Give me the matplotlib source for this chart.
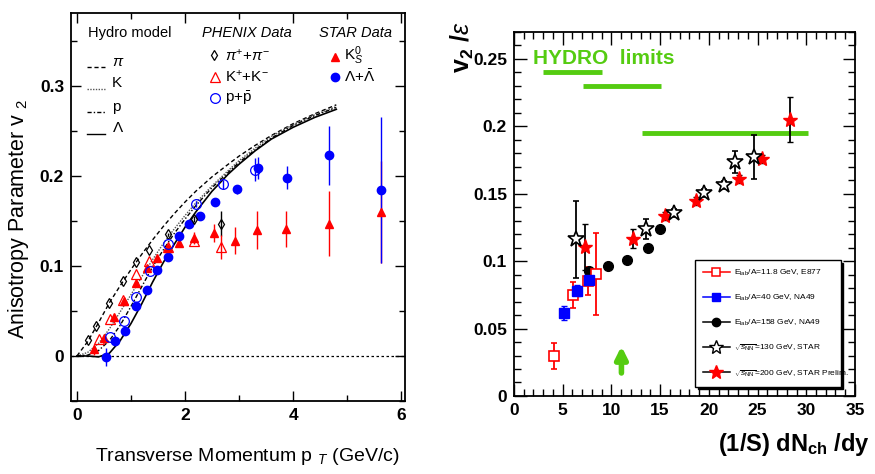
import numpy as np
import matplotlib
matplotlib.use("Agg")
import matplotlib.pyplot as plt
from matplotlib.lines import Line2D
from matplotlib.ticker import MultipleLocator

plt.rcParams['font.family'] = ['Liberation Sans', 'DejaVu Sans']
plt.rcParams['mathtext.fontset'] = 'custom'
plt.rcParams['mathtext.rm'] = 'Liberation Sans'
plt.rcParams['mathtext.it'] = 'Liberation Sans:italic'
plt.rcParams['mathtext.bf'] = 'Liberation Sans:bold'
NARROW = ['Liberation Sans Narrow', 'Liberation Sans', 'DejaVu Sans']

# ---- left panel: v2 vs pT ----
# hydro curves
hydro_pt = [0.0, 0.2, 0.4, 0.6, 0.8, 1.0, 1.2, 1.4, 1.6, 1.8, 2.0, 2.2, 2.5, 2.8, 3.0, 3.3, 3.6, 4.0, 4.4, 4.8]
hydro_pi = [0.0, 0.016, 0.037, 0.059, 0.078, 0.096, 0.113, 0.129, 0.144, 0.158, 0.171, 0.183, 0.199, 0.213, 0.222, 0.234, 0.245, 0.258, 0.269, 0.279]
hydro_k = [0.0, 0.004, 0.014, 0.030, 0.049, 0.068, 0.088, 0.107, 0.125, 0.141, 0.156, 0.170, 0.189, 0.206, 0.217, 0.231, 0.244, 0.257, 0.268, 0.277]
hydro_p = [0.0, 0.001, 0.006, 0.017, 0.034, 0.055, 0.077, 0.099, 0.118, 0.136, 0.152, 0.167, 0.187, 0.204, 0.215, 0.229, 0.242, 0.256, 0.267, 0.276]
hydro_lam = [0.0, 0.0, -0.001, 0.003, 0.017, 0.036, 0.058, 0.082, 0.104, 0.124, 0.143, 0.160, 0.183, 0.202, 0.213, 0.228, 0.241, 0.254, 0.265, 0.274]

# PHENIX
phx_pi_pt = [0.21, 0.36, 0.60, 0.86, 1.10, 1.34, 1.68, 2.17, 2.66]
phx_pi_v2 = [0.018, 0.033, 0.059, 0.083, 0.104, 0.118, 0.135, 0.152, 0.147]
phx_pi_err = [0, 0, 0, 0, 0, 0, 0.002, 0.003, 0.014]
phx_k_pt = [0.41, 0.62, 0.86, 1.09, 1.34, 1.68, 2.17, 2.67]
phx_k_v2 = [0.0185, 0.041, 0.062, 0.091, 0.105, 0.121, 0.128, 0.121]
phx_k_err = [0, 0, 0, 0, 0, 0.002, 0.003, 0.013]
phx_p_pt = [0.62, 0.88, 1.10, 1.35, 1.69, 2.20, 2.70, 3.30]
phx_p_v2 = [0.0215, 0.039, 0.066, 0.094, 0.124, 0.169, 0.191, 0.207]
phx_p_err = [0, 0, 0, 0, 0, 0.003, 0.005, 0.013]

# STAR
star_k0_pt = [0.32, 0.50, 0.69, 0.88, 1.09, 1.29, 1.49, 1.68, 1.88, 2.17, 2.54, 2.93, 3.34, 3.87, 4.67, 5.62]
star_k0_v2 = [0.0074, 0.0196, 0.0437, 0.061, 0.0815, 0.098, 0.1085, 0.1196, 0.125, 0.131, 0.137, 0.128, 0.140, 0.141, 0.147, 0.160]
star_k0_err = [0.006, 0.002, 0.002, 0.002, 0.002, 0.002, 0.003, 0.003, 0.004, 0.007, 0.010, 0.015, 0.021, 0.020, 0.036, 0.057]
star_lam_pt = [0.53, 0.70, 0.895, 1.09, 1.29, 1.49, 1.68, 1.88, 2.08, 2.28, 2.56, 2.96, 3.36, 3.88, 4.67, 5.62]
star_lam_v2 = [-0.001, 0.017, 0.028, 0.055, 0.073, 0.096, 0.110, 0.133, 0.147, 0.156, 0.171, 0.185, 0.209, 0.198, 0.223, 0.184]
star_lam_err = [0.010, 0.003, 0.003, 0.003, 0.003, 0.003, 0.003, 0.003, 0.003, 0.003, 0.004, 0.005, 0.012, 0.013, 0.033, 0.081]

# ---- right panel: v2/eps vs (1/S) dNch/dy ----
e877_x = [4.13, 6.06, 7.58, 8.44]
e877_y = [0.0296, 0.0748, 0.0852, 0.0904]
e877_err = [0.0096, 0.0094, 0.0105, 0.0305]
na49_40_x = [5.10, 6.44, 7.72]
na49_40_y = [0.0617, 0.0780, 0.0864]
na49_40_err = [0.005, 0.004, 0.003]
na49_158_x = [7.68, 9.64, 11.57, 13.71, 14.98]
na49_158_y = [0.0928, 0.0965, 0.1005, 0.1094, 0.1237]
star130_x = [6.40, 13.60, 16.39, 19.49, 21.56, 22.73, 24.66]
star130_y = [0.1163, 0.1242, 0.1355, 0.1506, 0.1568, 0.1736, 0.1773]
star130_err = [0.0285, 0.0074, 0.003, 0.003, 0.003, 0.008, 0.0164]
star200_x = [7.34, 12.26, 15.48, 18.70, 23.11, 25.41, 28.34]
star200_y = [0.1106, 0.1168, 0.1333, 0.1447, 0.1607, 0.1756, 0.2050]
star200_err = [0.0168, 0.0074, 0.003, 0.003, 0.003, 0.003, 0.0167]

hydro_lim_x0 = [3.03, 7.06, 13.12]
hydro_lim_x1 = [9.06, 15.08, 30.13]
hydro_lim_y = [0.2402, 0.2301, 0.1950]
arrow_x = 11.03
arrow_y = [0.015, 0.039]

fig = plt.figure(figsize=(8.75, 4.74), dpi=100)
ax1 = fig.add_axes([0.0811, 0.154, 0.3817, 0.8186])
ax2 = fig.add_axes([0.5874, 0.1646, 0.3897, 0.7679])

# left
ax1.axhline(0, color='black', ls=(0, (2, 2)), lw=0.9)
ax1.plot(hydro_pt, hydro_pi, color='black', ls=(0, (3, 2)), lw=1.0)
ax1.plot(hydro_pt, hydro_k, color='#555555', ls=(0, (1, 1)), lw=1.0)
ax1.plot(hydro_pt, hydro_p, color='black', ls=(0, (3, 1.5, 1, 1.5)), lw=1.0)
ax1.plot(hydro_pt, hydro_lam, color='black', ls='-', lw=1.2)

ax1.errorbar(star_k0_pt, star_k0_v2, yerr=star_k0_err, fmt='^', color='red', ms=6, elinewidth=1, capsize=0)
ax1.errorbar(star_lam_pt, star_lam_v2, yerr=star_lam_err, fmt='o', color='blue', ms=6, elinewidth=1, capsize=0)
ax1.errorbar(phx_pi_pt, phx_pi_v2, yerr=phx_pi_err, fmt='d', color='black', mfc='none', ms=5, mew=0.9, elinewidth=1, capsize=0)
ax1.errorbar(phx_k_pt, phx_k_v2, yerr=phx_k_err, fmt='^', color='red', mfc='none', ms=6.5, mew=0.9, elinewidth=1, capsize=0)
ax1.errorbar(phx_p_pt, phx_p_v2, yerr=phx_p_err, fmt='o', color='blue', mfc='none', ms=7, mew=0.9, elinewidth=1, capsize=0)

ax1.set_xlim(-0.11, 6.07)
ax1.set_ylim(-0.05, 0.381)
ax1.xaxis.set_major_locator(MultipleLocator(2))
ax1.xaxis.set_minor_locator(MultipleLocator(1))
ax1.yaxis.set_major_locator(MultipleLocator(0.1))
ax1.yaxis.set_minor_locator(MultipleLocator(0.05))
ax1.set_xticks([0, 2, 4, 6])
ax1.set_xticklabels(['0', '2', '4', '6'])
ax1.set_yticks([0, 0.1, 0.2, 0.3])
ax1.set_yticklabels(['0', '0.1', '0.2', '0.3'])

# legend text (left)
ax1.text(0.2, 0.359, 'Hydro model', fontsize=10.5, va='center')
ax1.text(2.31, 0.359, 'PHENIX Data', fontsize=10.5, va='center', style='italic')
ax1.text(4.48, 0.359, 'STAR Data', fontsize=10.5, va='center', style='italic')
hydro_styles = [((0, (3, 2)), 'black'), ((0, (1, 1)), '#555555'), ((0, (3, 1.5, 1, 1.5)), 'black'), ('-', 'black')]
hydro_names = [r'$\pi$', 'K', 'p', r'$\Lambda$']
hydro_leg_y = [0.327, 0.303, 0.277, 0.253]
for (ls, c), name, yy in zip(hydro_styles, hydro_names, hydro_leg_y):
    ax1.plot([0.185, 0.52], [yy - 0.006, yy - 0.006], color=c, ls=ls, lw=1.0)
    ax1.text(0.65, yy, name, fontsize=11, va='center')
ax1.plot(2.54, 0.334, 'd', color='black', mfc='none', ms=5, mew=0.9)
ax1.text(2.74, 0.334, r'$\pi^{+}$+$\pi^{-}$', fontsize=11, va='center')
ax1.plot(2.56, 0.310, '^', color='red', mfc='none', ms=6.5, mew=0.9)
ax1.text(2.74, 0.310, r'K$^{+}$+K$^{-}$', fontsize=11, va='center')
ax1.plot(2.56, 0.287, 'o', color='blue', mfc='none', ms=7, mew=0.9)
ax1.text(2.74, 0.287, r'p+$\bar{\rm p}$', fontsize=11, va='center')
ax1.plot(4.78, 0.332, '^', color='red', ms=6)
ax1.text(4.94, 0.334, r'K$^{0}_{S}$', fontsize=11, va='center')
ax1.plot(4.78, 0.310, 'o', color='blue', ms=6)
ax1.text(4.94, 0.310, r'$\Lambda$+$\bar{\Lambda}$', fontsize=11, va='center')

ax1.set_ylabel(r'Anisotropy Parameter v $_{2}$', fontsize=15.5)
ax1.yaxis.set_label_coords(-0.12, 0.47)
ax1.set_xlabel(r'Transverse Momentum p $_{T}$ (GeV/c)', fontsize=14, family=NARROW)
ax1.xaxis.set_label_coords(0.527, -0.115)

# right
for x0, x1, yy in zip(hydro_lim_x0, hydro_lim_x1, hydro_lim_y):
    ax2.plot([x0, x1], [yy, yy], color='#55cc11', lw=3.5, solid_capstyle='butt')
ax2.text(1.96, 0.2504, 'HYDRO  limits', color='#55cc11', fontsize=15, fontweight='bold', family=NARROW, va='center')
ax2.annotate('', xy=(arrow_x, arrow_y[1]), xytext=(arrow_x, arrow_y[0]),
             arrowprops=dict(arrowstyle='-|>,head_width=0.35,head_length=0.7', color='#55cc11', lw=4))

ax2.errorbar(e877_x, e877_y, yerr=e877_err, fmt='s', color='red', mfc='white', ms=7, mew=1.2, elinewidth=1.3, capsize=2.5)
ax2.errorbar(na49_40_x, na49_40_y, yerr=na49_40_err, fmt='s', color='blue', ms=6.5, elinewidth=1.3, capsize=2.5)
ax2.plot(na49_158_x, na49_158_y, 'o', color='black', ms=7)
ax2.errorbar(star130_x, star130_y, yerr=star130_err, fmt='*', color='black', mfc='white', ms=12, mew=1.2, elinewidth=1.3, capsize=2.5)
ax2.errorbar(star200_x, star200_y, yerr=star200_err, fmt='none', ecolor='black', elinewidth=1.3, capsize=2.5)
ax2.plot(star200_x, star200_y, '*', color='red', ms=11)

ax2.set_xlim(0, 35)
ax2.set_ylim(0, 0.27)
ax2.xaxis.set_major_locator(MultipleLocator(5))
ax2.xaxis.set_minor_locator(MultipleLocator(1))
ax2.yaxis.set_major_locator(MultipleLocator(0.05))
ax2.yaxis.set_minor_locator(MultipleLocator(0.01))
ax2.set_xticks([0, 5, 10, 15, 20, 25, 30, 35])
ax2.set_xticklabels(['0', '5', '10', '15', '20', '25', '30', '35'])
ax2.set_yticks([0, 0.05, 0.1, 0.15, 0.2, 0.25])
ax2.set_yticklabels(['0', '0.05', '0.1', '0.15', '0.2', '0.25'])

handles = [
    Line2D([], [], color='red', marker='s', mfc='white', ms=6, mew=1.1, lw=1.1),
    Line2D([], [], color='blue', marker='s', ms=6, lw=1.1),
    Line2D([], [], color='black', marker='o', ms=6, lw=1.1),
    Line2D([], [], color='black', marker='*', mfc='white', ms=10, lw=1.1),
    Line2D([], [], color='black', marker='*', mfc='red', mec='red', ms=10, lw=1.1),
]
labels = [r'E$_{\rm lab}$/A=11.8 GeV, E877', r'E$_{\rm lab}$/A=40 GeV, NA49',
          r'E$_{\rm lab}$/A=158 GeV, NA49', r'$\sqrt{s_{\rm NN}}$=130 GeV, STAR',
          r'$\sqrt{s_{\rm NN}}$=200 GeV, STAR Prelim.']
leg = ax2.legend(handles, labels, loc='lower left', bbox_to_anchor=(0.531, 0.0255, 0.427, 0.35),
                 mode='expand', borderaxespad=0, fontsize=6, handlelength=3.2, handletextpad=0.5,
                 labelspacing=1.75, borderpad=0.95, fancybox=False, edgecolor='black', framealpha=1,
                 shadow={'color': 'black', 'alpha': 1})
leg.get_frame().set_linewidth(1.0)

ax2.set_ylabel(r'$\mathbf{v}_{\mathbf{2}}$ /$\varepsilon$', fontsize=18, fontweight='bold', loc='top')
ax2.yaxis.set_label_coords(-0.112, 1.03)
ax2.set_xlabel(r'(1/S) dN$_{\mathbf{ch}}$ /dy', fontsize=17, fontweight='bold', family=NARROW, loc='right')
ax2.xaxis.set_label_coords(1.044, -0.095)

for ax, maj, mnr in ((ax1, 7, 4), (ax2, 9, 5)):
    ax.tick_params(which='both', direction='in', top=True, right=True, width=1.0)
    ax.tick_params(which='major', length=maj, labelsize=12.5, pad=5)
    ax.tick_params(which='minor', length=mnr)
    for lab in ax.get_xticklabels() + ax.get_yticklabels():
        lab.set_family(NARROW)
        lab.set_fontweight('bold')
    for sp in ax.spines.values():
        sp.set_linewidth(1.3)

fig.savefig('out.png', dpi=100)
